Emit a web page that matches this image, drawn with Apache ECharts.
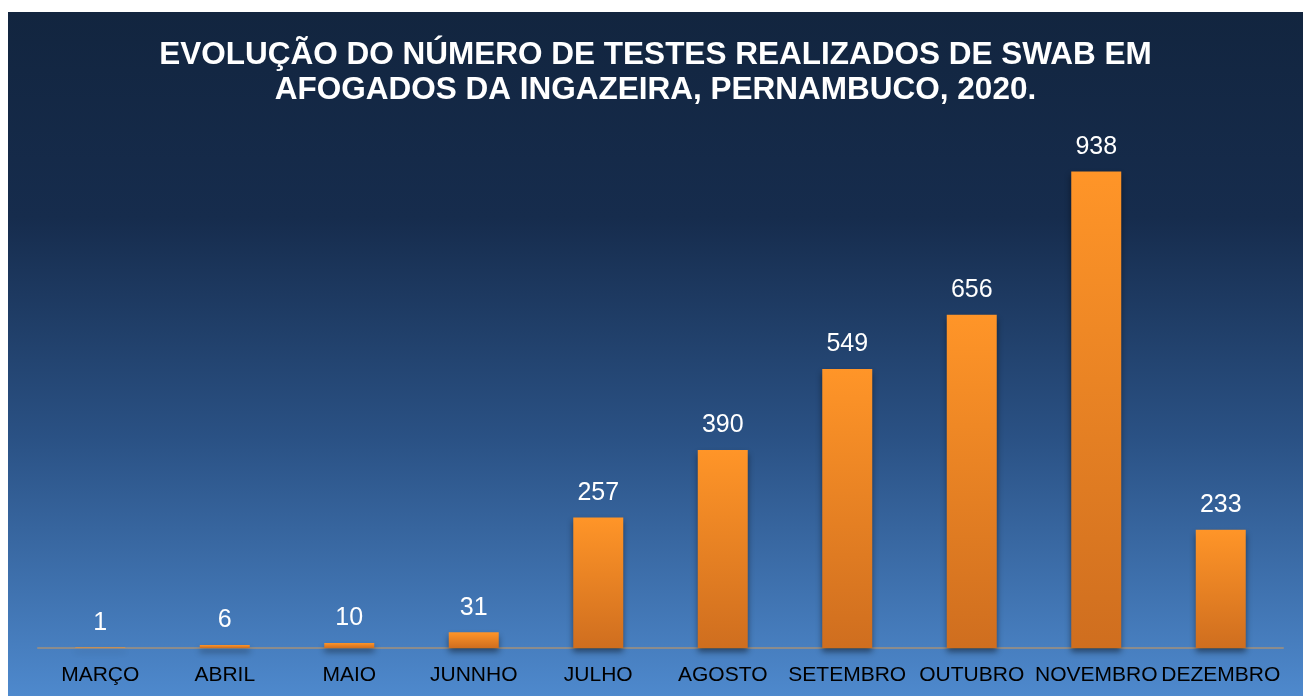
<!DOCTYPE html>
<html>
<head>
<meta charset="utf-8">
<script src="https://cdn.jsdelivr.net/npm/echarts@6/dist/echarts.min.js"></script>
<style>
  html, body { margin: 0; padding: 0; background: #fff; }
  .panel {
    position: absolute;
    left: 8px;
    top: 12px;
    width: 1295px;
    height: 684px;
    background: linear-gradient(to bottom, #12253f 0%, #162c4d 30%, #2a5184 62%, #4e89cd 100%);
  }
  #chart { width: 100%; height: 100%; }
</style>
</head>
<body>
<div class="panel"><div id="chart"></div></div>
<script>
const titleText = 'EVOLUÇÃO DO NÚMERO DE TESTES REALIZADOS DE SWAB EM\nAFOGADOS DA INGAZEIRA, PERNAMBUCO, 2020.'
const months = ['MARÇO', 'ABRIL', 'MAIO', 'JUNNHO', 'JULHO', 'AGOSTO', 'SETEMBRO', 'OUTUBRO', 'NOVEMBRO', 'DEZEMBRO']
const tests = [1, 6, 10, 31, 257, 390, 549, 656, 938, 233]

const chart = echarts.init(document.getElementById('chart'))

const option = {
  backgroundColor: 'transparent',
  animation: false,
  textStyle: { fontFamily: 'Liberation Sans, Arial, sans-serif' },
  title: {
    text: titleText,
    left: 'center',
    top: 21,
    textStyle: {
      color: '#ffffff',
      fontSize: 31.5,
      fontWeight: 'bold',
      lineHeight: 35,
      fontFamily: 'Liberation Sans, Arial, sans-serif'
    }
  },
  grid: { left: 30, right: 20, top: 128, bottom: 48 },
  xAxis: {
    type: 'category',
    data: months,
    axisLine: { lineStyle: { color: '#8c8c8c', width: 2 } },
    axisTick: { show: false },
    axisLabel: {
      color: '#000000',
      fontSize: 21,
      margin: 17,
      interval: 0
    }
  },
  yAxis: {
    type: 'value',
    min: 0,
    max: 1000,
    show: false,
    splitLine: { show: false }
  },
  series: [
    {
      name: 'Testes',
      type: 'bar',
      data: tests,
      barWidth: 50,
      itemStyle: {
        color: new echarts.graphic.LinearGradient(0, 0, 0, 1, [
          { offset: 0, color: '#ff9528' },
          { offset: 1, color: '#cf6e1f' }
        ]),
        shadowColor: 'rgba(0, 0, 0, 0.45)',
        shadowBlur: 6,
        shadowOffsetY: 4
      },
      label: {
        show: true,
        position: 'top',
        distance: 12,
        color: '#ffffff',
        fontSize: 25
      }
    }
  ]
}

chart.setOption(option)
window.addEventListener('resize', () => chart.resize())
</script>
</body>
</html>
